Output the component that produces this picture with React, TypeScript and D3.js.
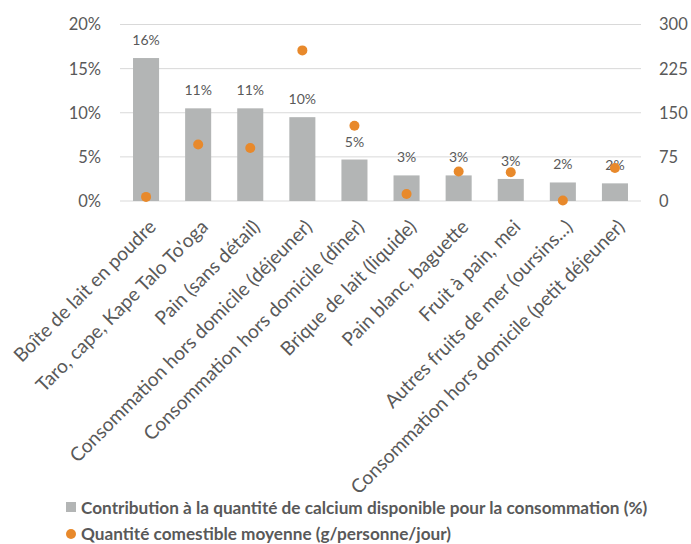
import React from "react";
import * as d3 from "d3";

const categories = [
  "Boîte de lait en poudre",
  "Taro, cape, Kape Talo To'oga",
  "Pain (sans détail)",
  "Consommation hors domicile (déjeuner)",
  "Consommation hors domicile (dîner)",
  "Brique de lait (liquide)",
  "Pain blanc, baguette",
  "Fruit à pain, mei",
  "Autres fruits de mer (oursins...)",
  "Consommation hors domicile (petit déjeuner)",
];
const contribution = [0.162, 0.105, 0.105, 0.095, 0.047, 0.029, 0.029, 0.025, 0.021, 0.02];
const quantity = [7, 96, 90, 256, 128, 12, 50, 49, 1, 56];
const leftTicks = [0, 0.05, 0.1, 0.15, 0.2];
const rightTicks = [0, 75, 150, 225, 300];
const legendLabels = [
  "Contribution à la quantité de calcium disponible pour la consommation (%)",
  "Quantité comestible moyenne (g/personne/jour)",
];

const W = 691;
const H = 544;
const M = { left: 120, right: 641, top: 24.5, bottom: 201 };
const GREY = "#b3b5b5";
const ORANGE = "#e8892b";
const TEXT = "#595959";
const FONT = "Lato, sans-serif";

export default function App() {
  const x = d3.scaleBand<string>().domain(categories).range([M.left, M.right]).paddingInner(0.5).paddingOuter(0.25);
  const yL = d3.scaleLinear().domain([0, 0.2]).range([M.bottom, M.top]);
  const yR = d3.scaleLinear().domain([0, 300]).range([M.bottom, M.top]);
  const pct = d3.format(".0%");
  return (
    <svg width={W} height={H} style={{ position: "absolute", left: 0, top: 0, fontFamily: FONT }}>
      <rect width={W} height={H} fill="#fff" />
      {leftTicks.map((t) => (
        <line key={t} x1={M.left} x2={M.right} y1={yL(t)} y2={yL(t)} stroke="#d9d9d9" strokeWidth={1} />
      ))}
      {leftTicks.map((t) => (
        <text key={"l" + t} x={101} y={yL(t)} dy="0.36em" textAnchor="end" fontSize={16.5} fill={TEXT}>
          {pct(t)}
        </text>
      ))}
      {rightTicks.map((t) => (
        <text key={"r" + t} x={659} y={yR(t)} dy="0.36em" textAnchor="start" fontSize={16.5} fill={TEXT}>
          {t}
        </text>
      ))}
      {categories.map((c, i) => (
        <rect key={c} x={x(c)} y={yL(contribution[i])} width={x.bandwidth()} height={M.bottom - yL(contribution[i])} fill={GREY} />
      ))}
      {categories.map((c, i) => (
        <text key={"v" + c} x={(x(c) as number) + x.bandwidth() / 2} y={yL(contribution[i]) - 13} textAnchor="middle" fontSize={14} fill={TEXT}>
          {pct(contribution[i])}
        </text>
      ))}
      {categories.map((c, i) => (
        <circle key={"d" + c} cx={(x(c) as number) + x.bandwidth() / 2} cy={yR(quantity[i])} r={5} fill={ORANGE} />
      ))}
      {categories.map((c) => {
        const cx = (x(c) as number) + x.bandwidth() / 2;
        return (
          <text key={"x" + c} transform={`translate(${cx + 11},${M.bottom + 27}) rotate(-45)`} textAnchor="end" fontSize={19.2} fill={TEXT}>
            {c}
          </text>
        );
      })}
      <rect x={66} y={502} width={10} height={10} fill={GREY} />
      <text x={81} y={514} fontSize={17.2} fontWeight="bold" fill={TEXT}>{legendLabels[0]}</text>
      <circle cx={71} cy={534} r={5} fill={ORANGE} />
      <text x={81} y={540} fontSize={17.2} fontWeight="bold" fill={TEXT}>{legendLabels[1]}</text>
    </svg>
  );
}
